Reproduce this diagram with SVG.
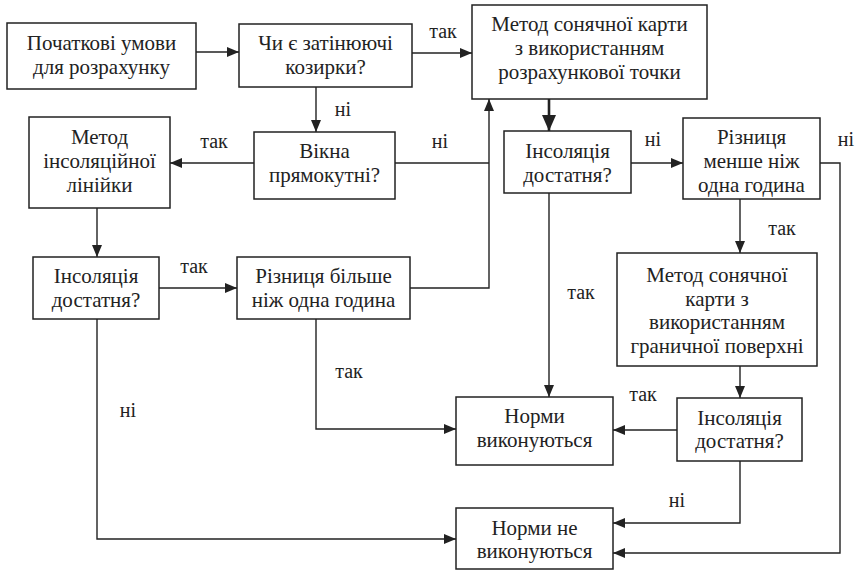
<svg xmlns="http://www.w3.org/2000/svg" width="857" height="570" viewBox="0 0 857 570" font-family="Liberation Serif, Times New Roman, Times, serif">
<style>
.box{fill:#fff;stroke:#222;stroke-width:1.5}
.t{font-size:21px;fill:#222;text-anchor:middle}
.l{font-size:20px;fill:#222;text-anchor:middle}
.c{fill:none;stroke:#222;stroke-width:1.4}
.thick{stroke-width:2.6}
</style>
<defs>
<marker id="ah" markerUnits="userSpaceOnUse" markerWidth="12" markerHeight="10" refX="12" refY="5" orient="auto"><path d="M0,0 L12,5 L0,10 z" fill="#222"/></marker>
<marker id="ahb" markerUnits="userSpaceOnUse" markerWidth="16" markerHeight="14" refX="16" refY="7" orient="auto"><path d="M0,0 L16,7 L0,14 z" fill="#222"/></marker>
</defs>
<g id="connectors">
<path class="c" d="M196,52 H239" marker-end="url(#ah)"/>
<path class="c" d="M412,53 H472" marker-end="url(#ah)"/>
<path class="c" d="M316,87 V132" marker-end="url(#ah)"/>
<path class="c" d="M254,163 H170" marker-end="url(#ah)"/>
<path class="c" d="M395,163 H489"/>
<path class="c" d="M410,288 H489 V99" marker-end="url(#ah)"/>
<path class="c thick" d="M549,99 V131" marker-end="url(#ahb)"/>
<path class="c" d="M631,163 H683" marker-end="url(#ah)"/>
<path class="c" d="M820,163 H840 V553 H613" marker-end="url(#ah)"/>
<path class="c" d="M740,199 V253" marker-end="url(#ah)"/>
<path class="c" d="M740,366 V398" marker-end="url(#ah)"/>
<path class="c" d="M549,193 V397" marker-end="url(#ah)"/>
<path class="c" d="M677,430 H613" marker-end="url(#ah)"/>
<path class="c" d="M740,461 V523 H613" marker-end="url(#ah)"/>
<path class="c" d="M97,208 V257" marker-end="url(#ah)"/>
<path class="c" d="M159,288 H237" marker-end="url(#ah)"/>
<path class="c" d="M316,319 V429 H456" marker-end="url(#ah)"/>
<path class="c" d="M97,319 V539 H456" marker-end="url(#ah)"/>
<text class="l" x="443" y="38">так</text>
<text class="l" x="343" y="116">ні</text>
<text class="l" x="214" y="148">так</text>
<text class="l" x="440" y="148">ні</text>
<text class="l" x="653" y="146">ні</text>
<text class="l" x="846" y="146">ні</text>
<text class="l" x="782" y="235">так</text>
<text class="l" x="581" y="299">так</text>
<text class="l" x="643" y="401">так</text>
<text class="l" x="677" y="507">ні</text>
<text class="l" x="194" y="273">так</text>
<text class="l" x="349" y="378">так</text>
<text class="l" x="128" y="417">ні</text>
</g>
<g id="n1"><rect class="box" x="7" y="23" width="189" height="66"/><text class="t" x="101.5" y="50">Початкові умови</text><text class="t" x="101.5" y="74">для розрахунку</text></g>
<g id="n2"><rect class="box" x="239" y="24" width="173" height="63"/><text class="t" x="325.5" y="50">Чи є затінюючі</text><text class="t" x="325.5" y="74">козирки?</text></g>
<g id="n3"><rect class="box" x="472" y="5" width="235" height="94"/><text class="t" x="589.5" y="31">Метод сонячної карти</text><text class="t" x="589.5" y="55">з використанням</text><text class="t" x="589.5" y="79">розрахункової точки</text></g>
<g id="n4"><rect class="box" x="254" y="132" width="141" height="67"/><text class="t" x="324.5" y="158">Вікна</text><text class="t" x="324.5" y="182">прямокутні?</text></g>
<g id="n5"><rect class="box" x="29" y="117" width="141" height="91"/><text class="t" x="99.5" y="144">Метод</text><text class="t" x="99.5" y="168">інсоляційної</text><text class="t" x="99.5" y="192">лінійки</text></g>
<g id="n6"><rect class="box" x="504" y="131" width="127" height="62"/><text class="t" x="567.5" y="158">Інсоляція</text><text class="t" x="567.5" y="182">достатня?</text></g>
<g id="n7"><rect class="box" x="683" y="118" width="137" height="81"/><text class="t" x="751.5" y="144">Різниця</text><text class="t" x="751.5" y="168">менше ніж</text><text class="t" x="751.5" y="192">одна година</text></g>
<g id="n8"><rect class="box" x="33" y="257" width="126" height="62"/><text class="t" x="96" y="283">Інсоляція</text><text class="t" x="96" y="307">достатня?</text></g>
<g id="n9"><rect class="box" x="237" y="257" width="173" height="62"/><text class="t" x="323.5" y="283">Різниця більше</text><text class="t" x="323.5" y="307">ніж одна година</text></g>
<g id="n10"><rect class="box" x="617" y="253" width="200" height="113"/><text class="t" x="717" y="282">Метод сонячної</text><text class="t" x="717" y="305.5">карти з</text><text class="t" x="717" y="329">використанням</text><text class="t" x="717" y="352.5">граничної поверхні</text></g>
<g id="n11"><rect class="box" x="456" y="397" width="157" height="68"/><text class="t" x="534.5" y="423">Норми</text><text class="t" x="534.5" y="447">виконуються</text></g>
<g id="n12"><rect class="box" x="677" y="398" width="125" height="63"/><text class="t" x="739.5" y="425">Інсоляція</text><text class="t" x="739.5" y="448">достатня?</text></g>
<g id="n13"><rect class="box" x="456" y="508" width="157" height="61"/><text class="t" x="534.5" y="535">Норми не</text><text class="t" x="534.5" y="558">виконуються</text></g>
</svg>
